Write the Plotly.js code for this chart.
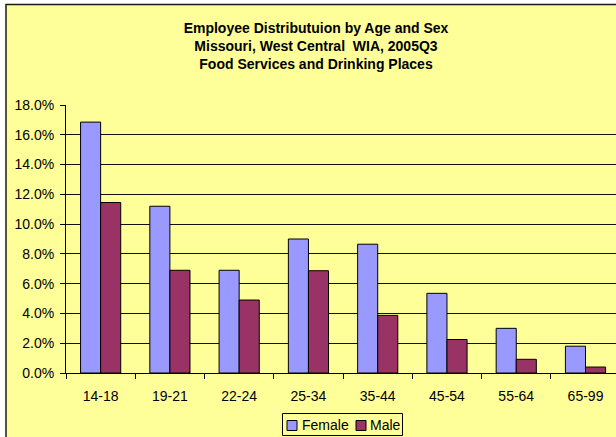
<!DOCTYPE html>
<html>
<head>
<meta charset="utf-8">
<script src="https://cdn.plot.ly/plotly-3.0.1.min.js"></script>
<style>html,body{margin:0;padding:0;background:#fff;}#chart{width:616px;height:437px;}</style>
</head>
<body>
<div id="chart"></div>
<script>
var categories = ['14-18','19-21','22-24','25-34','35-44','45-54','55-64','65-99'];
var femaleValues = [16.85, 11.2, 6.9, 9.0, 8.65, 5.35, 3.0, 1.8];
var maleValues = [11.45, 6.9, 4.9, 6.87, 3.87, 2.25, 0.92, 0.4];
var seriesNames = ['Female', 'Male'];
var seriesColors = ['#9999FF', '#993366'];
var titleLines = ['Employee Distributuion by Age and Sex', 'Missouri, West Central  WIA, 2005Q3', 'Food Services and Drinking Places'];

var FONT = '"Liberation Sans", Arial, sans-serif';
var W = 616, H = 437, L = 66, R = 0, T = 105, B = 64;
var pw = W - L - R, ph = H - T - B;
function px(x){ return (x - L) / pw; }
function py(y){ return (H - B - y) / ph; }

var traces = [
  {type:'bar', name: seriesNames[0], x: categories, y: femaleValues,
   marker:{color: seriesColors[0], line:{color:'#000', width:1}}, hoverinfo:'x+y'},
  {type:'bar', name: seriesNames[1], x: categories, y: maleValues,
   marker:{color: seriesColors[1], line:{color:'#000', width:1}}, hoverinfo:'x+y'}
];

// custom compact legend (Excel style)
var legendBox = {x0: 282.5, x1: 402.5, y0: 413.5, y1: 435.5};
var legendItems = [
  {sx: 287, tx: 299.5},
  {sx: 356, tx: 368}
];
var shapes = [
  {type: 'rect', xref: 'paper', yref: 'paper', layer: 'below',
   x0: px(6), x1: px(W + 20), y0: py(H + 20), y1: py(4.5),
   fillcolor: '#FFFF99', line: {color: '#1a1a1a', width: 1.5}},
  {type: 'rect', xref: 'paper', yref: 'paper', layer: 'above',
   x0: px(legendBox.x0), x1: px(legendBox.x1), y0: py(legendBox.y1), y1: py(legendBox.y0),
   fillcolor: 'rgba(0,0,0,0)', line: {color: '#000', width: 1}}
];
var annotations = [];
seriesNames.forEach(function(name, i){
  var it = legendItems[i];
  shapes.push({type: 'rect', xref: 'paper', yref: 'paper', layer: 'above',
    x0: px(it.sx), x1: px(it.sx + 10), y0: py(430.5), y1: py(420.5),
    fillcolor: seriesColors[i], line: {color: '#000', width: 1}});
  annotations.push({xref: 'paper', yref: 'paper', x: px(it.tx), y: py(425),
    xanchor: 'left', yanchor: 'middle', showarrow: false, text: name,
    font: {family: FONT, size: 14, color: '#000'}});
});

var layout = {
  width: W, height: H,
  margin: {l: L, r: R, t: T, b: B, pad: 0},
  paper_bgcolor: '#FFFFFF',
  plot_bgcolor: 'rgba(0,0,0,0)',
  font: {family: FONT, size: 14, color: '#000'},
  barmode: 'group', bargap: 0.42, bargroupgap: 0,
  title: {
    text: '<b>' + titleLines.join('<br>') + '</b>',
    font: {family: FONT, size: 14, color: '#000'},
    x: 316 / W, xanchor: 'center', xref: 'container',
    y: 1 - 33 / H, yanchor: 'top', yref: 'container'
  },
  xaxis: {
    type: 'category', range: [-0.5, 7.44],
    showline: true, linecolor: '#000', linewidth: 1,
    ticks: 'outside', tickson: 'boundaries', ticklen: 5, tickcolor: '#000',
    showgrid: false, zeroline: false,
    tickfont: {family: FONT, size: 14, color: '#000'},
    ticklabelstandoff: 10,
    fixedrange: true
  },
  yaxis: {
    range: [0, 18], dtick: 2, tick0: 0,
    tickformat: '.1f', ticksuffix: '%',
    showline: true, linecolor: '#000', linewidth: 1,
    ticks: 'outside', ticklen: 5, tickcolor: '#000',
    showgrid: true, gridcolor: '#111', gridwidth: 1,
    zeroline: false,
    tickfont: {family: FONT, size: 14, color: '#000'},
    ticklabelstandoff: 3,
    fixedrange: true
  },
  shapes: shapes,
  annotations: annotations,
  showlegend: false
};

Plotly.newPlot('chart', traces, layout, {displayModeBar: false, staticPlot: true});
</script>
</body>
</html>
